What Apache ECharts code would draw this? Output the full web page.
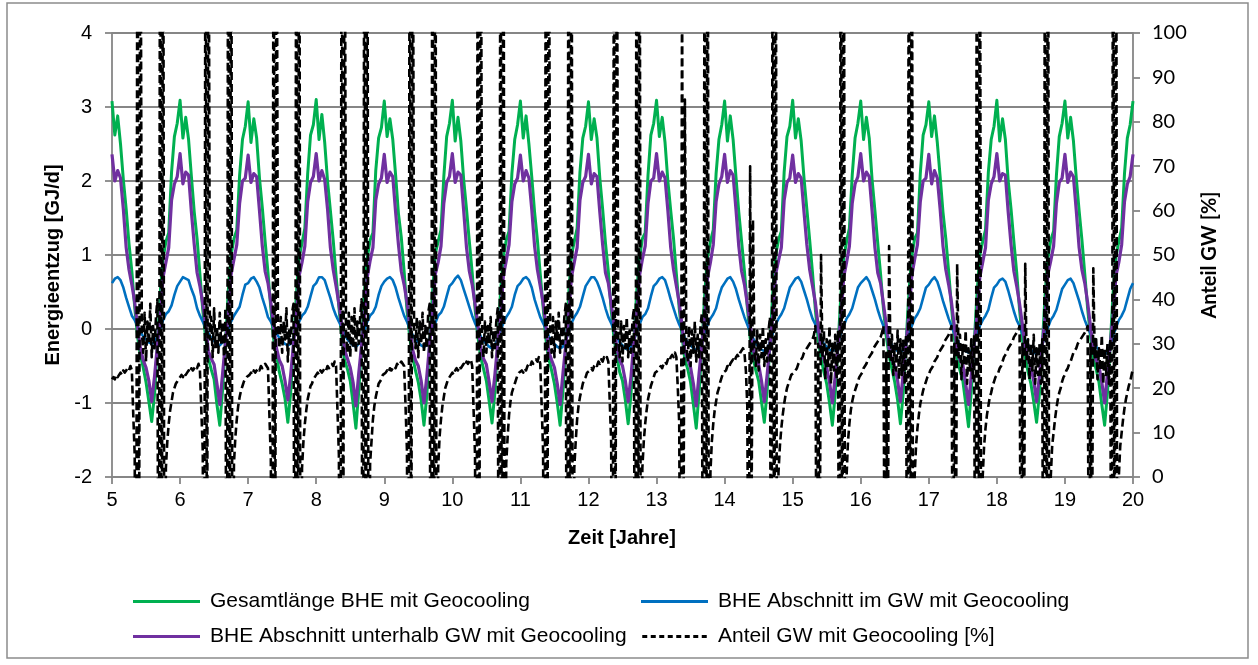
<!DOCTYPE html>
<html><head><meta charset="utf-8">
<script src="https://cdn.jsdelivr.net/npm/echarts@6/dist/echarts.min.js"></script>
<style>html,body{margin:0;padding:0;background:#fff}#chart{width:1258px;height:665px}</style>
</head><body><div id="chart"></div>
<script>
// ---------- data ----------
const samplesPerYear = 24;      // GJ/d series: samples per year
const samplesPerYearPct = 48;   // % series: samples per year
const startYear = 5;
const endYear = 20;

const seriesNames = [
  'Gesamtlänge BHE mit Geocooling',
  'BHE Abschnitt im GW mit Geocooling',
  'BHE Abschnitt unterhalb GW mit Geocooling',
  'Anteil GW mit Geocooling [%]'
];
const xTitle = 'Zeit [Jahre]';
const yLeftTitle = 'Energieentzug [GJ/d]';
const yRightTitle = 'Anteil GW [%]';

// Gesamtlänge BHE mit Geocooling [GJ/d]
const gesamt = [
 3.08, 2.62, 2.88, 2.50, 2.02, 1.62, 1.15, 0.78, 0.30, -0.10, -0.35, -0.52, -0.72, -0.98, -1.25, -0.88, -0.22, 0.48, 0.95, 1.18, 1.30, 2.12, 2.60, 2.78,
 3.09, 2.58, 2.86, 2.56, 2.06, 1.58, 1.22, 0.74, 0.26, -0.12, -0.40, -0.55, -0.68, -1.02, -1.30, -0.82, -0.18, 0.52, 1.00, 1.22, 1.34, 2.08, 2.56, 2.74,
 3.07, 2.52, 2.84, 2.58, 2.04, 1.64, 1.18, 0.76, 0.28, -0.14, -0.36, -0.58, -0.74, -0.94, -1.26, -0.86, -0.20, 0.46, 0.98, 1.16, 1.36, 2.10, 2.62, 2.76,
 3.10, 2.56, 2.90, 2.52, 2.00, 1.60, 1.20, 0.72, 0.30, -0.10, -0.42, -0.54, -0.70, -1.00, -1.34, -0.84, -0.24, 0.50, 0.96, 1.20, 1.30, 2.14, 2.58, 2.72,
 3.08, 2.60, 2.84, 2.56, 2.08, 1.56, 1.24, 0.78, 0.26, -0.12, -0.38, -0.56, -0.72, -0.96, -1.30, -0.90, -0.18, 0.48, 1.02, 1.18, 1.34, 2.06, 2.60, 2.78,
 3.09, 2.54, 2.86, 2.54, 2.02, 1.62, 1.18, 0.76, 0.28, -0.10, -0.38, -0.54, -0.70, -0.98, -1.27, -0.86, -0.20, 0.50, 0.98, 1.20, 1.32, 2.10, 2.56, 2.76,
 3.08, 2.58, 2.88, 2.50, 2.06, 1.58, 1.20, 0.74, 0.30, -0.14, -0.40, -0.56, -0.74, -1.00, -1.30, -0.84, -0.22, 0.46, 1.00, 1.18, 1.36, 2.12, 2.58, 2.74,
 3.07, 2.56, 2.84, 2.58, 2.04, 1.62, 1.16, 0.78, 0.26, -0.12, -0.36, -0.58, -0.70, -0.96, -1.28, -0.88, -0.18, 0.50, 0.96, 1.22, 1.30, 2.08, 2.62, 2.78,
 3.09, 2.60, 2.86, 2.52, 2.00, 1.60, 1.22, 0.74, 0.28, -0.10, -0.42, -0.54, -0.72, -1.02, -1.34, -0.86, -0.24, 0.48, 0.98, 1.18, 1.34, 2.10, 2.56, 2.76,
 3.08, 2.54, 2.88, 2.56, 2.06, 1.58, 1.18, 0.78, 0.30, -0.12, -0.38, -0.56, -0.70, -0.98, -1.26, -0.84, -0.20, 0.50, 1.00, 1.20, 1.32, 2.12, 2.60, 2.74,
 3.09, 2.58, 2.84, 2.54, 2.04, 1.62, 1.20, 0.76, 0.26, -0.14, -0.40, -0.58, -0.74, -1.00, -1.30, -0.88, -0.22, 0.46, 0.96, 1.18, 1.36, 2.08, 2.58, 2.78,
 3.08, 2.56, 2.86, 2.58, 2.02, 1.60, 1.16, 0.74, 0.28, -0.10, -0.36, -0.54, -0.72, -0.96, -1.28, -0.86, -0.18, 0.50, 0.98, 1.22, 1.30, 2.10, 2.62, 2.76,
 3.07, 2.60, 2.88, 2.52, 2.06, 1.58, 1.22, 0.78, 0.30, -0.12, -0.40, -0.56, -0.70, -1.00, -1.32, -0.84, -0.20, 0.48, 1.00, 1.18, 1.34, 2.12, 2.56, 2.74,
 3.09, 2.54, 2.84, 2.56, 2.00, 1.62, 1.18, 0.76, 0.26, -0.14, -0.38, -0.58, -0.74, -0.98, -1.26, -0.88, -0.24, 0.46, 0.96, 1.20, 1.32, 2.08, 2.60, 2.78,
 3.08, 2.58, 2.86, 2.54, 2.04, 1.60, 1.20, 0.74, 0.28, -0.10, -0.42, -0.54, -0.72, -1.02, -1.30, -0.86, -0.20, 0.50, 0.98, 1.18, 1.36, 2.10, 2.58, 2.76,
 3.08
];

// BHE Abschnitt im GW mit Geocooling [GJ/d]
const imGW = [
 0.62, 0.68, 0.70, 0.66, 0.56, 0.42, 0.30, 0.18, 0.12, 0.04, -0.04, -0.10, -0.14, -0.18, -0.20, -0.18, -0.10, 0.00, 0.12, 0.20, 0.24, 0.32, 0.46, 0.58,
 0.64, 0.70, 0.68, 0.66, 0.54, 0.44, 0.28, 0.18, 0.10, 0.02, -0.06, -0.12, -0.16, -0.20, -0.22, -0.18, -0.12, 0.00, 0.10, 0.18, 0.24, 0.30, 0.46, 0.60,
 0.62, 0.68, 0.70, 0.64, 0.56, 0.42, 0.30, 0.16, 0.10, 0.02, -0.06, -0.12, -0.16, -0.20, -0.22, -0.20, -0.12, -0.02, 0.10, 0.18, 0.22, 0.30, 0.44, 0.58,
 0.62, 0.70, 0.70, 0.66, 0.54, 0.42, 0.28, 0.18, 0.10, 0.02, -0.08, -0.14, -0.18, -0.22, -0.24, -0.20, -0.14, -0.02, 0.10, 0.18, 0.22, 0.30, 0.46, 0.58,
 0.64, 0.68, 0.70, 0.66, 0.56, 0.42, 0.30, 0.18, 0.10, 0.00, -0.08, -0.14, -0.18, -0.22, -0.24, -0.22, -0.14, -0.02, 0.08, 0.18, 0.22, 0.30, 0.44, 0.58,
 0.62, 0.68, 0.72, 0.66, 0.54, 0.42, 0.30, 0.18, 0.08, 0.00, -0.10, -0.16, -0.20, -0.24, -0.26, -0.22, -0.14, -0.02, 0.08, 0.16, 0.22, 0.30, 0.46, 0.58,
 0.62, 0.68, 0.70, 0.66, 0.56, 0.40, 0.28, 0.16, 0.08, 0.00, -0.10, -0.16, -0.20, -0.24, -0.26, -0.24, -0.16, -0.04, 0.08, 0.16, 0.22, 0.30, 0.44, 0.58,
 0.64, 0.70, 0.70, 0.64, 0.54, 0.42, 0.28, 0.16, 0.08, -0.02, -0.10, -0.18, -0.22, -0.26, -0.28, -0.24, -0.16, -0.04, 0.06, 0.16, 0.20, 0.28, 0.44, 0.58,
 0.62, 0.68, 0.70, 0.66, 0.54, 0.40, 0.28, 0.16, 0.06, -0.02, -0.12, -0.18, -0.22, -0.26, -0.28, -0.26, -0.18, -0.04, 0.06, 0.14, 0.20, 0.28, 0.44, 0.56,
 0.62, 0.68, 0.70, 0.64, 0.54, 0.40, 0.28, 0.16, 0.06, -0.04, -0.12, -0.20, -0.24, -0.28, -0.30, -0.26, -0.18, -0.06, 0.06, 0.14, 0.20, 0.28, 0.42, 0.56,
 0.62, 0.68, 0.70, 0.64, 0.52, 0.40, 0.26, 0.14, 0.06, -0.04, -0.12, -0.20, -0.24, -0.28, -0.30, -0.28, -0.20, -0.06, 0.04, 0.14, 0.20, 0.28, 0.42, 0.56,
 0.62, 0.66, 0.70, 0.64, 0.52, 0.40, 0.26, 0.14, 0.04, -0.04, -0.14, -0.22, -0.26, -0.30, -0.32, -0.28, -0.20, -0.06, 0.04, 0.14, 0.20, 0.28, 0.42, 0.56,
 0.60, 0.66, 0.70, 0.64, 0.52, 0.38, 0.26, 0.14, 0.04, -0.06, -0.14, -0.22, -0.26, -0.30, -0.32, -0.30, -0.20, -0.08, 0.04, 0.12, 0.18, 0.26, 0.42, 0.56,
 0.60, 0.66, 0.68, 0.64, 0.52, 0.38, 0.24, 0.12, 0.04, -0.06, -0.14, -0.22, -0.28, -0.32, -0.34, -0.30, -0.22, -0.08, 0.02, 0.12, 0.18, 0.26, 0.40, 0.54,
 0.60, 0.66, 0.68, 0.62, 0.50, 0.38, 0.24, 0.12, 0.02, -0.06, -0.16, -0.24, -0.28, -0.32, -0.34, -0.32, -0.22, -0.08, 0.02, 0.12, 0.18, 0.26, 0.40, 0.54,
 0.62
];

// BHE Abschnitt unterhalb GW mit Geocooling [GJ/d]
const unterhalbGW = [
 2.36, 2.00, 2.14, 2.04, 1.62, 1.10, 0.80, 0.60, 0.36, 0.04, -0.26, -0.42, -0.52, -0.70, -0.98, -0.64, -0.22, 0.16, 0.70, 0.90, 1.10, 1.74, 1.96, 2.06,
 2.37, 1.96, 2.12, 2.08, 1.58, 1.14, 0.76, 0.58, 0.34, 0.06, -0.30, -0.40, -0.48, -0.74, -1.02, -0.60, -0.18, 0.20, 0.74, 0.94, 1.14, 1.70, 2.00, 2.04,
 2.35, 1.98, 2.10, 2.06, 1.60, 1.12, 0.78, 0.62, 0.36, 0.04, -0.26, -0.42, -0.50, -0.70, -0.96, -0.62, -0.20, 0.18, 0.72, 0.90, 1.12, 1.72, 1.98, 2.06,
 2.37, 2.00, 2.14, 2.02, 1.62, 1.10, 0.80, 0.58, 0.34, 0.06, -0.28, -0.40, -0.52, -0.72, -1.04, -0.60, -0.22, 0.16, 0.70, 0.92, 1.10, 1.74, 1.96, 2.04,
 2.36, 1.98, 2.12, 2.06, 1.58, 1.14, 0.78, 0.60, 0.36, 0.04, -0.28, -0.42, -0.50, -0.70, -1.00, -0.64, -0.20, 0.18, 0.74, 0.90, 1.12, 1.70, 1.98, 2.06,
 2.37, 1.98, 2.12, 2.08, 1.60, 1.10, 0.78, 0.60, 0.34, 0.06, -0.26, -0.40, -0.48, -0.72, -0.98, -0.62, -0.20, 0.16, 0.72, 0.92, 1.14, 1.72, 1.96, 2.04,
 2.35, 2.00, 2.14, 2.04, 1.62, 1.12, 0.80, 0.58, 0.36, 0.04, -0.30, -0.42, -0.52, -0.74, -1.02, -0.60, -0.22, 0.18, 0.70, 0.90, 1.10, 1.74, 1.98, 2.06,
 2.36, 1.96, 2.10, 2.06, 1.58, 1.14, 0.76, 0.62, 0.34, 0.06, -0.26, -0.42, -0.50, -0.70, -0.98, -0.64, -0.18, 0.20, 0.72, 0.94, 1.12, 1.70, 2.00, 2.04,
 2.37, 2.00, 2.12, 2.04, 1.60, 1.10, 0.80, 0.58, 0.36, 0.04, -0.30, -0.40, -0.52, -0.74, -1.04, -0.60, -0.22, 0.16, 0.70, 0.90, 1.14, 1.72, 1.96, 2.06,
 2.36, 1.98, 2.14, 2.08, 1.62, 1.12, 0.78, 0.60, 0.34, 0.06, -0.26, -0.42, -0.48, -0.70, -0.98, -0.62, -0.20, 0.18, 0.74, 0.92, 1.10, 1.74, 1.98, 2.04,
 2.35, 1.98, 2.10, 2.04, 1.58, 1.14, 0.80, 0.58, 0.36, 0.04, -0.28, -0.40, -0.52, -0.72, -1.00, -0.64, -0.22, 0.16, 0.70, 0.90, 1.12, 1.70, 1.96, 2.06,
 2.37, 2.00, 2.12, 2.06, 1.60, 1.10, 0.76, 0.62, 0.34, 0.06, -0.26, -0.42, -0.50, -0.70, -0.98, -0.60, -0.18, 0.20, 0.72, 0.94, 1.14, 1.72, 2.00, 2.04,
 2.36, 1.96, 2.14, 2.04, 1.62, 1.12, 0.80, 0.60, 0.36, 0.04, -0.30, -0.42, -0.48, -0.74, -1.02, -0.62, -0.20, 0.18, 0.70, 0.90, 1.10, 1.74, 1.96, 2.06,
 2.37, 2.00, 2.10, 2.08, 1.58, 1.14, 0.78, 0.58, 0.34, 0.06, -0.26, -0.40, -0.52, -0.70, -0.98, -0.64, -0.22, 0.16, 0.74, 0.92, 1.12, 1.70, 1.98, 2.04,
 2.36, 1.98, 2.12, 2.06, 1.60, 1.10, 0.80, 0.62, 0.36, 0.04, -0.28, -0.42, -0.50, -0.72, -1.00, -0.60, -0.20, 0.18, 0.72, 0.90, 1.14, 1.72, 1.96, 2.06,
 2.36
];

// Anteil GW mit Geocooling [%], 48 samples per year (values beyond 0..100 run off the axis)
const anteilGW = [
 22, 22.5, 22, 23, 22.5, 23, 23.5, 23, 24, 23.5, 24, 24.5, 24, 25, 24, 14, 5, -70, 170, -50, 160, 33, 28, 37, 26, 35, 30, 39, 27, 34, 29, 36, 40, -80, 180, -80, 180, -70, 2, 8, 12, 15, 17, 19, 20, 21, 21.5, 22,
 22.5, 23, 22.5, 23.5, 23, 23.5, 24, 23.5, 24.5, 24, 24.5, 25, 24.5, 25.5, 24, 15, 6, -70, 170, -50, 160, 31, 36, 27, 38, 29, 34, 28, 37, 30, 35, 27, 38, -80, 180, -80, 180, -70, 3, 9, 13, 16, 18, 19.5, 20.5, 21.5, 22, 22.5,
 22.5, 23, 23.5, 23, 24, 23.5, 24, 24.5, 24, 25, 24.5, 25, 25.5, 25, 24.5, 14, 4, -70, 170, -50, 160, 34, 29, 36, 28, 35, 31, 38, 26, 33, 30, 37, 39, -80, 180, -80, 180, -70, 2, 8, 12, 15, 17.5, 19, 20.5, 21, 22, 22.5,
 23, 23.5, 23, 24, 23.5, 24, 24.5, 24, 25, 24.5, 25, 25.5, 25, 26, 25, 15, 5, -70, 170, -50, 160, 32, 28, 37, 27, 36, 29, 38, 28, 35, 30, 36, 40, -80, 180, -80, 180, -70, 3, 8, 13, 16, 18, 19.5, 21, 21.5, 22, 23,
 23, 23.5, 24, 23.5, 24.5, 24, 24.5, 25, 24.5, 25.5, 25, 25.5, 26, 25.5, 25, 16, 6, -70, 170, -50, 160, 33, 29, 36, 27, 35, 30, 37, 28, 34, 29, 37, 39, -80, 180, -80, 180, -70, 2, 9, 13, 16, 18, 20, 21, 22, 22.5, 23,
 23.5, 23, 24, 24.5, 24, 25, 24.5, 25, 25.5, 25, 26, 25.5, 26, 26.5, 25, 15, 5, -70, 170, -50, 160, 31, 27, 35, 28, 34, 30, 36, 27, 33, 29, 35, 38, -80, 180, -80, 180, -70, 3, 9, 14, 17, 19, 20, 21, 22, 23, 23.5,
 23.5, 24, 23.5, 24.5, 24, 25, 25.5, 25, 26, 25.5, 26, 26.5, 26, 27, 25.5, 16, 6, -70, 170, -50, 160, 32, 28, 36, 27, 35, 31, 37, 28, 34, 30, 36, 39, -80, 180, -80, 180, -70, 2, 8, 13, 16, 18, 19.5, 21, 22, 22.5, 23.5,
 23.5, 24, 24.5, 24, 25, 25.5, 25, 26, 25.5, 26.5, 26, 27, 26.5, 27, 26, 17, 8, -70, 150, -40, 140, 31, 27, 35, 26, 34, 29, 36, 27, 33, 28, 35, 38, -80, 180, -80, 180, -70, 2, 8, 12, 15, 17.5, 19, 20.5, 21.5, 22.5, 23.5,
 23.5, 24, 24.5, 25, 24.5, 25.5, 26, 25.5, 26.5, 26, 27, 27.5, 27, 28, 27, 20, 12, -60, 115, -20, 85, 30, 26, 34, 25, 33, 28, 35, 26, 32, 27, 34, 37, -80, 180, -80, 180, -70, 1, 8, 12, 15, 17, 19, 20, 21.5, 22.5, 23.5,
 23.5, 24, 25, 24.5, 25.5, 26, 26.5, 26, 27, 27.5, 27, 28, 28.5, 29, 28, 24, 16, -50, 70, -10, 58, 29, 25, 33, 24, 32, 27, 34, 25, 31, 26, 33, 36, -80, 180, -80, 180, -70, 1, 7, 11, 14, 16.5, 18.5, 20, 21, 22, 23,
 23, 23.5, 24, 24.5, 25.5, 26, 26.5, 27, 28, 28.5, 29, 29.5, 30, 30.5, 31, 32, 34, -40, 30, -30, 50, 27, 33, 22, 31, 25, 34, 21, 30, 24, 32, 22, 33, -80, 180, -80, 180, -70, 0, 8, 12, 15, 17, 18.5, 19.5, 20.5, 21.5, 22.5,
 23, 23.5, 24.5, 25, 25.5, 26.5, 27, 27.5, 28, 29, 29.5, 30, 30.5, 31, 31.5, 32.5, 34, -40, 28, -30, 52, 26, 32, 23, 30, 24, 33, 22, 31, 23, 31, 21, 32, -80, 180, -80, 180, -70, 0, 7, 11, 14, 16.5, 18, 19.5, 20.5, 21.5, 22.5,
 23, 24, 24.5, 25, 26, 26.5, 27, 28, 28.5, 29, 29.5, 30.5, 31, 31.5, 32, 33, 34, -40, 30, -30, 48, 27, 32, 22, 30, 25, 33, 21, 29, 24, 31, 22, 32, -80, 180, -80, 180, -70, 0, 7, 11, 14, 16, 18, 19, 20.5, 21.5, 22.5,
 23, 23.5, 24.5, 25, 26, 27, 27.5, 28, 29, 29.5, 30, 30.5, 31.5, 32, 32.5, 33, 34, -40, 30, -30, 48, 26, 31, 22, 30, 24, 32, 21, 29, 23, 30, 21, 31, -80, 180, -80, 180, -70, 0, 7, 10, 13, 15.5, 17.5, 19, 20, 21.5, 22.5,
 23, 24, 24.5, 25.5, 26, 27, 28, 28.5, 29, 30, 30.5, 31, 31.5, 32, 32.5, 33, 34, -40, 30, -30, 47, 27, 31, 22, 29, 24, 32, 21, 29, 23, 30, 21, 31, -80, 180, -80, 180, -70, 0, 7, 10, 13, 15.5, 17.5, 19, 20.5, 21.5, 23,
 24.5
];

// sample times on the year axis
const time = gesamt.map((_, i) => startYear + i / samplesPerYear);
const timePct = anteilGW.map((_, i) => startYear + i / samplesPerYearPct);
const pairs = (arr, t) => arr.map((v, i) => [t[i], v]);

// ---------- chart ----------
const chart = echarts.init(document.getElementById('chart'), null, {renderer: 'canvas'});
const AX = '#868686';
const ARIAL = '"Liberation Sans", Arial, sans-serif';
const CAL = 'Lato, "Liberation Sans", sans-serif';
const ICON_SOLID = 'path://M0,0H67V3H0Z';
const ICON_DASH = 'path://M0,0h5v3h-5zM8.5,0h5v3h-5zM17,0h5v3h-5zM25.5,0h5v3h-5zM34,0h5v3h-5zM42.5,0h5v3h-5zM51,0h5v3h-5zM59.5,0h5v3h-5z';

function lineSeries(name, data, t, color, width, yIdx, dash) {
  return {
    name, type: 'line', data: pairs(data, t), yAxisIndex: yIdx,
    symbol: 'none', showSymbol: false, silent: true, clip: true,
    lineStyle: {color, width, type: dash || 'solid', cap: 'butt', join: 'round'},
    itemStyle: {color}
  };
}

const legendText = {color: '#000', fontFamily: ARIAL, fontSize: 21, lineHeight: 21, padding: [0, 0, 0, 5]};

chart.setOption({
  animation: false,
  backgroundColor: '#fff',
  grid: {left: 112, right: 125, top: 33, bottom: 188, containLabel: false},
  xAxis: {
    type: 'value', min: startYear, max: endYear, interval: 1,
    axisLine: {show: true, onZero: false, lineStyle: {color: AX, width: 1.8}},
    axisTick: {show: true, length: 7, lineStyle: {color: AX, width: 1.8}},
    axisLabel: {color: '#000', fontFamily: ARIAL, fontSize: 20, margin: 13},
    splitLine: {show: false}
  },
  yAxis: [{
    type: 'value', min: -2, max: 4, interval: 1, position: 'left',
    axisLine: {show: true, lineStyle: {color: AX, width: 1.8}},
    axisTick: {show: true, length: 7, lineStyle: {color: AX, width: 1.8}},
    axisLabel: {color: '#000', fontFamily: ARIAL, fontSize: 20, margin: 20},
    splitLine: {show: true, lineStyle: {color: AX, width: 1.8}}
  }, {
    type: 'value', min: 0, max: 100, interval: 10, position: 'right',
    axisLine: {show: true, lineStyle: {color: AX, width: 1.8}},
    axisTick: {show: true, length: 7, lineStyle: {color: AX, width: 1.8}},
    axisLabel: {color: '#000', fontFamily: CAL, fontSize: 20, margin: 19},
    splitLine: {show: false}
  }],
  legend: [{
    data: [{name: seriesNames[0], icon: ICON_SOLID}, {name: seriesNames[2], icon: ICON_SOLID}],
    orient: 'vertical', left: 133, top: 591, padding: 0, itemGap: 14,
    itemWidth: 67, itemHeight: 3, selectedMode: false, textStyle: legendText
  }, {
    data: [{name: seriesNames[1], icon: ICON_SOLID}, {name: seriesNames[3], icon: ICON_DASH}],
    orient: 'vertical', left: 641, top: 591, padding: 0, itemGap: 14,
    itemWidth: 67, itemHeight: 3, selectedMode: false, textStyle: legendText
  }],
  graphic: [
    {type: 'rect', shape: {x: 7, y: 3, width: 1241, height: 655}, style: {fill: 'none', stroke: '#8c8c8c', lineWidth: 1.5}, silent: true, z: -1},
    {type: 'text', x: 53, y: 265, rotation: Math.PI / 2, silent: true,
     style: {text: yLeftTitle, font: 'bold 20px "Liberation Sans", Arial, sans-serif', fill: '#000', align: 'center', verticalAlign: 'middle', textAlign: 'center', textVerticalAlign: 'middle'}},
    {type: 'text', x: 1210, y: 255, rotation: Math.PI / 2, silent: true,
     style: {text: yRightTitle, font: 'bold 20px Lato, sans-serif', fill: '#000', align: 'center', verticalAlign: 'middle', textAlign: 'center', textVerticalAlign: 'middle'}},
    {type: 'text', x: 622, y: 538, silent: true,
     style: {text: xTitle, font: 'bold 20px "Liberation Sans", Arial, sans-serif', fill: '#000', align: 'center', verticalAlign: 'middle', textAlign: 'center', textVerticalAlign: 'middle'}}
  ],
  series: [
    lineSeries(seriesNames[0], gesamt, time, '#00B050', 3, 0),
    lineSeries(seriesNames[1], imGW, time, '#0070C0', 2.6, 0),
    lineSeries(seriesNames[2], unterhalbGW, time, '#7030A0', 3.2, 0),
    lineSeries(seriesNames[3], anteilGW, timePct, '#000000', 2.6, 1, [8, 4])
  ]
});
</script></body></html>
